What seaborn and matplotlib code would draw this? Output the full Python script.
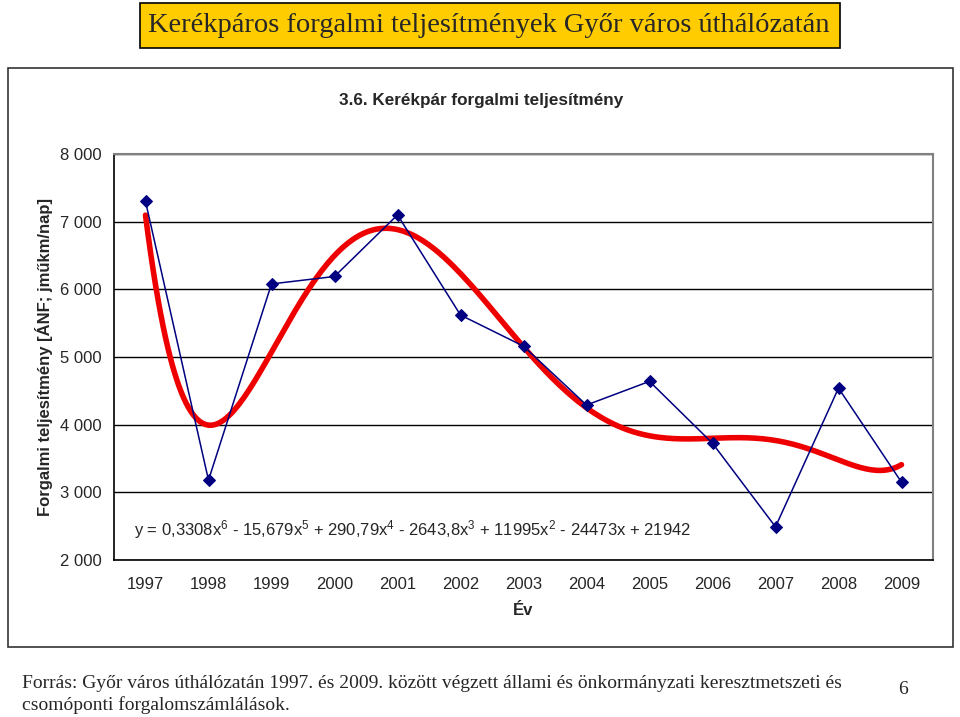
import numpy as np
import pandas as pd
import seaborn as sns
import matplotlib.pyplot as plt
from matplotlib.patches import Rectangle
from matplotlib.ticker import FixedLocator, FuncFormatter

# Adatok (leolvasva az ábráról)
years = ["1997", "1998", "1999", "2000", "2001", "2002", "2003",
         "2004", "2005", "2006", "2007", "2008", "2009"]
values = [7300, 3180, 6080, 6190, 7100, 5620, 5160,
          4290, 4640, 3725, 2490, 4540, 3150]
trend_degree = 6
equation = (r"y = 0,3308x$^6$ - 15,679x$^5$ + 290,79x$^4$ - 2643,8x$^3$"
            r" + 11995x$^2$ - 24473x + 21942")

sns.set_theme(style="white")
plt.rcParams['font.family'] = ['Liberation Sans', 'DejaVu Sans']
plt.rcParams['mathtext.fontset'] = 'custom'
plt.rcParams['mathtext.rm'] = 'Liberation Sans'
plt.rcParams['mathtext.it'] = 'Liberation Sans:italic'

x = np.arange(1, len(years) + 1)
df = pd.DataFrame({"x": x, "value": values})
# polinomiális trendvonal (mint az Excelben)
coefs = np.polyfit(x, values, trend_degree)
xs = np.linspace(1, len(years), 300)
trend = pd.DataFrame({"x": xs, "y": np.polyval(coefs, xs)})

fig = plt.figure(figsize=(9.6, 7.17), dpi=100)
ax = fig.add_axes([114 / 960, 1 - 560 / 717, 819 / 960, 406 / 717])

sns.lineplot(data=df, x="x", y="value", ax=ax, color="#000080", linewidth=1.1,
             marker="D", markersize=6, markeredgecolor="#000080", zorder=3)
sns.lineplot(data=trend, x="x", y="y", ax=ax, color="#ee0000", linewidth=4,
             zorder=2)

ax.set_xlim(0.5, len(years) + 0.5)
ax.set_ylim(2000, 8000)
ax.set_yticks(range(2000, 8001, 1000))
ax.yaxis.set_major_formatter(FuncFormatter(lambda v, p: f"{int(v):,}".replace(",", " ")))
ax.set_xticks(x)
ax.set_xticklabels(years)
ax.xaxis.set_minor_locator(FixedLocator(np.arange(0.5, len(years) + 1, 1)))
ax.tick_params(axis="x", which="major", length=0, pad=12, labelsize=12)
ax.tick_params(axis="x", which="minor", length=5, width=1, color="black", direction="out")
ax.tick_params(axis="y", length=5, width=1, color="black", direction="out", labelsize=12, pad=4)
ax.grid(axis="y", color="black", linewidth=1)
ax.grid(axis="x", visible=False)
for s in ["top", "right"]:
    ax.spines[s].set_color("#808080")
    ax.spines[s].set_linewidth(1.5)
for s in ["left", "bottom"]:
    ax.spines[s].set_color("black")
    ax.spines[s].set_linewidth(1.2)

ax.set_xlabel("Év", fontsize=12, fontweight="bold", labelpad=8)
ax.set_ylabel("Forgalmi teljesítmény [ÁNF; jműkm/nap]", fontsize=12,
              fontweight="bold", labelpad=5)

ax.text(0.82, 2450, equation, fontsize=12, ha="left", va="center")

# Diagram kerete és belső cím
fig.patches.append(Rectangle((8 / 960, 1 - 647 / 717), 945 / 960, 579 / 717,
                             transform=fig.transFigure, fill=False,
                             edgecolor="#333333", linewidth=1.2))
fig.text(481 / 960, 1 - 101 / 717, "3.6. Kerékpár forgalmi teljesítmény",
         ha="center", va="center", fontsize=12.3, fontweight="bold")

# Felső sárga címdoboz
fig.text(489 / 960, 1 - 25 / 717,
         "Kerékpáros forgalmi teljesítmények Győr város úthálózatán",
         ha="center", va="center", fontsize=20.5, family="Liberation Serif")
fig.patches.append(Rectangle((140 / 960, 1 - 48 / 717), 700 / 960, 45 / 717,
                             transform=fig.transFigure, facecolor="#ffcc00",
                             edgecolor="black", linewidth=1.2, zorder=-1))

# Forrás
fig.text(22 / 960, 1 - 683 / 717,
         "Forrás: Győr város úthálózatán 1997. és 2009. között végzett állami és önkormányzati keresztmetszeti és",
         ha="left", va="center", fontsize=14, family="Liberation Serif")
fig.text(22 / 960, 1 - 705 / 717, "csomóponti forgalomszámlálások.",
         ha="left", va="center", fontsize=14, family="Liberation Serif")
fig.text(903 / 960, 1 - 690 / 717, "6", ha="center", va="center",
         fontsize=14, family="Liberation Serif")

fig.savefig("out.png", dpi=100)
